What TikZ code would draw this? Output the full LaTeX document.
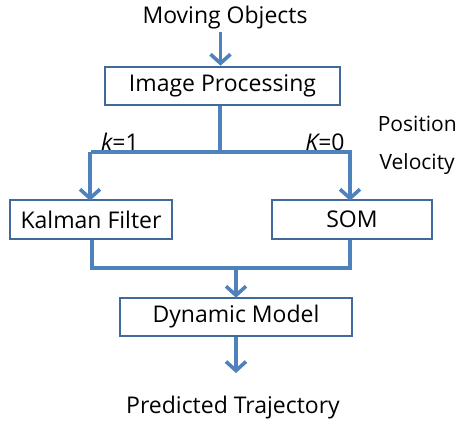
\documentclass[tikz,border=0pt]{standalone}
\usepackage{fontspec}
\setmainfont{Open Sans}
\usetikzlibrary{arrows.meta}
\definecolor{lineblue}{HTML}{4F81BD}
\definecolor{boxblue}{HTML}{41699C}
\tikzset{
  box/.style={draw=boxblue, line width=2.6pt, fill=white, inner sep=0pt, font=\fontsize{23}{26}\selectfont},
  lbl/.style={inner sep=0pt, font=\fontsize{23}{26}\selectfont},
  side/.style={inner sep=0pt, anchor=east, font=\fontsize{21}{24}\selectfont},
  conn/.style={draw=lineblue, line width=3.6pt},
  arr/.style={conn, -{Straight Barb[length=9pt,width=20pt,line width=3.6pt]}}
}
\begin{document}
\begin{tikzpicture}[x=1pt,y=-1pt]
\useasboundingbox (0,0) rectangle (459,426);
\node[lbl] (mo) at (225,18) {Moving Objects};
\node[box, minimum width=235pt, minimum height=38pt] (ip) at (222.5,86) {Image Processing};
\node[box, minimum width=162pt, minimum height=39pt] (kf) at (91,219.5) {Kalman Filter};
\node[box, minimum width=160pt, minimum height=39pt] (sm) at (352,219.5) {SOM};
\node[box, minimum width=232pt, minimum height=38pt] (dm) at (236,317) {Dynamic Model};
\node[lbl] (pt) at (233,408) {Predicted Trajectory};
\node[side] (pos) at (457,124) {Position};
\node[side] (vel) at (455,164) {Velocity};
\node[lbl] (k1) at (120,142) {\itshape k\upshape=1};
\node[lbl] (k0) at (325,142) {\itshape K\upshape=0};
\coordinate (j1) at (220,152);
\coordinate (j2) at (236,268);
\coordinate (out) at (236,373);
\draw[arr] (mo.south -| ip.north) ++(-2,2) -- ([xshift=-2pt]ip.north);
\draw[conn] (ip.south -| j1) -- (j1);
\draw[conn] (kf.north |- j1) -- (sm.north |- j1);
\draw[arr] ([xshift=-1pt]kf.north |- j1) -- ([xshift=-1pt,yshift=-2pt]kf.north);
\draw[arr] ([xshift=-2pt]sm.north |- j1) -- ([xshift=-2pt,yshift=-2pt]sm.north);
\draw[conn] ([xshift=1pt]kf.south) -- ([xshift=1pt]kf.south |- j2) -- ([xshift=-2pt]sm.south |- j2) -- ([xshift=-2pt]sm.south);
\draw[arr] (j2) -- ([yshift=-1pt]dm.north);
\draw[arr] (dm.south) -- (out);
\end{tikzpicture}
\end{document}
